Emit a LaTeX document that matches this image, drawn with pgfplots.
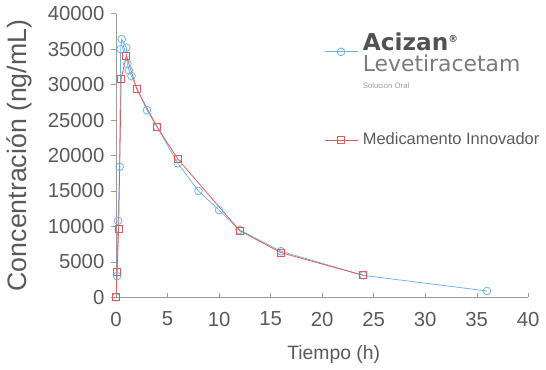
\documentclass[border=0pt]{standalone}
\usepackage{pgfplots}
\pgfplotsset{compat=1.18}
\usepackage{fontspec}
\setmainfont{Liberation Sans}
\newfontfamily\logofont{DejaVu Sans}
\definecolor{cblue}{HTML}{6BB5E5}
\definecolor{cred}{HTML}{E05A5A}
\definecolor{axgray}{HTML}{9A9A9A}
\definecolor{txgray}{HTML}{5A5A5A}
\begin{document}
\begin{tikzpicture}
\begin{axis}[
  scale only axis,
  width=213pt, height=146.6pt,
  xmin=0, xmax=40, ymin=0, ymax=40000,
  axis lines=left,
  axis line style={axgray, -},
  xtick={0,5,...,40},
  ytick={0,5000,...,40000},
  tick style={axgray},
  major tick length=2.5pt,
  tick align=outside,
  x tick style={yshift=2.5pt},
  scaled y ticks=false,
  /pgf/number format/assume math mode=true,
  yticklabel={\pgfmathprintnumber[fixed,1000 sep={}]{\tick}},
  tick label style={font=\fontsize{10.5}{12}\selectfont, txgray},
  x tick label style={yshift=-1.5pt},
  xlabel={Tiempo (h)},
  ylabel={Concentración (ng/mL)},
  xlabel style={font=\fontsize{10}{12}\selectfont, txgray, yshift=-3pt, xshift=6pt},
  ylabel style={font=\fontsize{13.8}{15}\selectfont, txgray, yshift=1.5pt},
  legend style={draw=none, fill=none, inner sep=0pt, outer sep=0pt, at={(0.505,0.945)}, anchor=north west,
    font=\fontsize{8.5}{10}\selectfont, text=txgray, row sep=28pt, column sep=2.5pt,
    nodes={inner xsep=0pt},
    legend cell align=left},
]
\addplot[cblue, thin, mark=o, mark size=2pt, mark options={solid, cblue}] coordinates {
(0,0) (0.1,3000) (0.2,10800) (0.35,18400) (0.45,35000) (0.55,36400)
(1.0,35200) (1.1,32900) (1.25,32000) (1.5,31200) (3,26400) (4,24000) (6,18900)
(8,15000) (10,12300) (12,9500) (16,6500) (24,3100) (36,900)};
\addlegendentry{\begin{tabular}[c]{@{}l@{}}{\logofont\fontsize{12}{13}\selectfont\bfseries\color{txgray!90!black}Acizan\textsuperscript{\tiny®}}\\[-1pt]
{\logofont\fontsize{11.3}{12}\selectfont\color{txgray!80}Levetiracetam}\\[-1pt]
{\fontsize{4}{5}\selectfont\color{txgray!60}Solución Oral}\end{tabular}}
\addplot[cred, thin, mark=square, mark size=1.8pt, mark options={solid, cred}] coordinates {
(0,0) (0.1,3600) (0.25,9600) (0.5,30800) (1,34100) (2,29400) (4,24000)
(6,19500) (12,9400) (16,6300) (24,3100)};
\addlegendentry{Medicamento Innovador}
\end{axis}
\end{tikzpicture}
\end{document}
